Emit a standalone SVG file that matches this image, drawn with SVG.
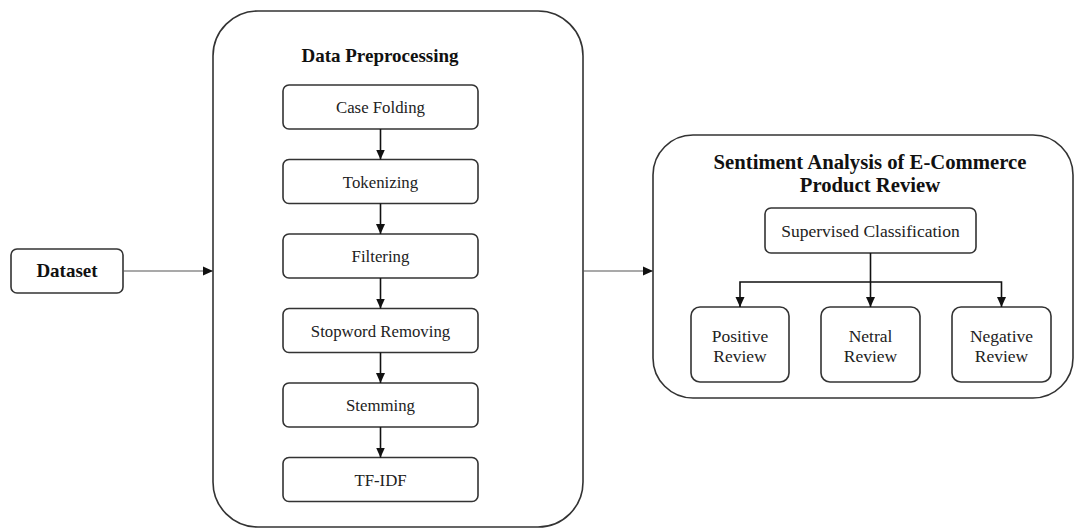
<svg xmlns="http://www.w3.org/2000/svg" width="1077" height="529" viewBox="0 0 1077 529">
<style>
.box{fill:#fff;stroke:#333;stroke-width:1.6}
.cont{fill:#fff;stroke:#333;stroke-width:1.6}
.t{font-family:"Liberation Serif","Times New Roman",serif;font-size:16.8px;fill:#222;text-anchor:middle}
.t2{font-family:"Liberation Serif","Times New Roman",serif;font-size:17.5px;fill:#222;text-anchor:middle}
.b{font-family:"Liberation Serif","Times New Roman",serif;font-size:19px;font-weight:bold;fill:#111;text-anchor:middle}
.b2{font-family:"Liberation Serif","Times New Roman",serif;font-size:20.7px;font-weight:bold;fill:#111;text-anchor:middle}
.c{fill:none;stroke:#111;stroke-width:1.6}
.cg{fill:none;stroke:#555;stroke-width:1.1}
</style>
<defs>
<marker id="ah" viewBox="0 0 10 10" refX="10" refY="5" markerWidth="10" markerHeight="10" markerUnits="userSpaceOnUse" orient="auto">
<path d="M0,0.5 L10,5 L0,9.5 Z" fill="#111"/>
</marker>
</defs>
<rect width="1077" height="529" fill="#fff"/>
<g id="dataset">
<rect class="box" x="11" y="249" width="112" height="44" rx="6"/>
<text class="b" x="67" y="277">Dataset</text>
</g>
<g id="preprocessing">
<rect class="cont" x="213" y="11" width="370" height="516" rx="45"/>
<text class="b" x="380" y="62">Data Preprocessing</text>
</g>
<g id="case-folding">
<rect class="box" x="283" y="85" width="195" height="44" rx="6"/>
<text class="t" x="380.5" y="113">Case Folding</text>
</g>
<g id="tokenizing">
<rect class="box" x="283" y="159.5" width="195" height="44" rx="6"/>
<text class="t" x="380.5" y="187.5">Tokenizing</text>
</g>
<g id="filtering">
<rect class="box" x="283" y="234" width="195" height="44" rx="6"/>
<text class="t" x="380.5" y="262">Filtering</text>
</g>
<g id="stopword">
<rect class="box" x="283" y="308.5" width="195" height="44" rx="6"/>
<text class="t" x="380.5" y="336.5">Stopword Removing</text>
</g>
<g id="stemming">
<rect class="box" x="283" y="383" width="195" height="44" rx="6"/>
<text class="t" x="380.5" y="411">Stemming</text>
</g>
<g id="tfidf">
<rect class="box" x="283" y="457.5" width="195" height="44" rx="6"/>
<text class="t" x="380.5" y="485.5">TF-IDF</text>
</g>
<g id="sentiment">
<rect class="cont" x="653" y="135" width="420" height="263" rx="40"/>
<text class="b2" x="870" y="169">Sentiment Analysis of E-Commerce</text>
<text class="b2" x="870" y="192">Product Review</text>
</g>
<g id="supervised">
<rect class="box" x="765" y="208" width="211" height="45" rx="6"/>
<text class="t2" x="870.5" y="237">Supervised Classification</text>
</g>
<g id="positive">
<rect class="box" x="691" y="307" width="98" height="75" rx="9"/>
<text class="t2" x="740" y="342">Positive</text>
<text class="t2" x="740" y="362">Review</text>
</g>
<g id="netral">
<rect class="box" x="821" y="307" width="99" height="75" rx="9"/>
<text class="t2" x="870.5" y="342">Netral</text>
<text class="t2" x="870.5" y="362">Review</text>
</g>
<g id="negative">
<rect class="box" x="952" y="307" width="99" height="75" rx="9"/>
<text class="t2" x="1001.5" y="342">Negative</text>
<text class="t2" x="1001.5" y="362">Review</text>
</g>
<g id="connectors">
<path class="cg" d="M123,271 H213" marker-end="url(#ah)"/>
<path class="cg" d="M583,271 H653" marker-end="url(#ah)"/>
<path class="c" d="M380.5,129 V159.5" marker-end="url(#ah)"/>
<path class="c" d="M380.5,203.5 V234" marker-end="url(#ah)"/>
<path class="c" d="M380.5,278 V308.5" marker-end="url(#ah)"/>
<path class="c" d="M380.5,352.5 V383" marker-end="url(#ah)"/>
<path class="c" d="M380.5,427 V457.5" marker-end="url(#ah)"/>
<path class="c" d="M870.5,253 V307" marker-end="url(#ah)"/>
<path class="c" d="M870.5,282 H740 V307" marker-end="url(#ah)"/>
<path class="c" d="M870.5,282 H1001.5 V307" marker-end="url(#ah)"/>
</g>
</svg>
